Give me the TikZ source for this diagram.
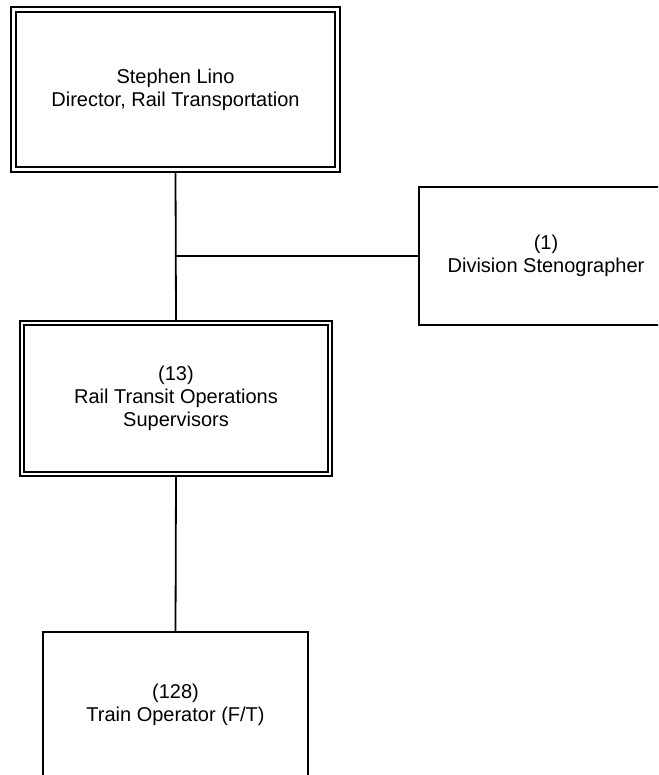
\documentclass[tikz,border=0pt]{standalone}
\usepackage{fontspec}
\setmainfont{Liberation Sans}
\begin{document}
\begin{tikzpicture}[x=1pt,y=-1pt,
  box/.style={draw, line width=1.8pt, align=center, inner sep=0pt, outer sep=0pt,
    font=\fontsize{20}{23.3}\selectfont},
  obox/.style={box, line width=1.1pt},
  inner/.style={line width=2pt},
  conn/.style={line width=1.8pt}]
\useasboundingbox (0,0) rectangle (658,775);
\clip (0,0) rectangle (658,775);
\node[obox, minimum width=329pt, minimum height=165pt] (dir) at (175.5,89.5)
  {Stephen Lino\\Director, Rail Transportation};
\draw[inner] ([shift={(5,5)}]dir.north west) rectangle ([shift={(-5,-5)}]dir.south east);
\node[box, minimum width=254pt, minimum height=138pt] (steno) at (546,256)
  {(1)\\Division Stenographer};
\node[obox, minimum width=312pt, minimum height=155pt] (sup) at (176,398.5)
  {(13)\\Rail Transit Operations\\Supervisors};
\draw[inner] ([shift={(4,4)}]sup.north west) rectangle ([shift={(-4,-4)}]sup.south east);
\node[box, minimum width=265pt, minimum height=146pt] (op) at (175.5,705)
  {(128)\\Train Operator (F/T)};
\coordinate (j) at (dir.south |- steno.west);
\draw[conn] (dir.south) -- (sup.north);
\draw[conn] (j) -- (steno.west);
\draw[conn] (sup.south) -- (op.north);
\end{tikzpicture}
\end{document}
